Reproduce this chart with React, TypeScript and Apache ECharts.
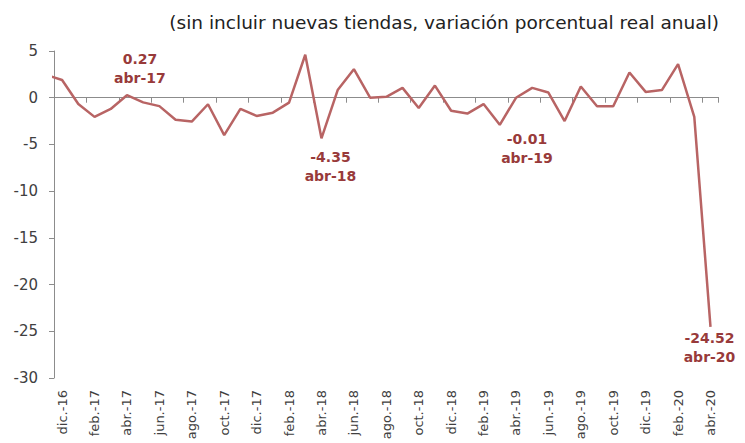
import React, { useEffect, useRef } from "react";
import * as echarts from "echarts";

// Months (first one, nov.-16, lies outside the visible range and is clipped)
const months: string[] = [
  "nov.-16", "dic.-16",
  "ene.-17", "feb.-17", "mar.-17", "abr.-17", "may.-17", "jun.-17", "jul.-17", "ago.-17", "sep.-17", "oct.-17", "nov.-17", "dic.-17",
  "ene.-18", "feb.-18", "mar.-18", "abr.-18", "may.-18", "jun.-18", "jul.-18", "ago.-18", "sep.-18", "oct.-18", "nov.-18", "dic.-18",
  "ene.-19", "feb.-19", "mar.-19", "abr.-19", "may.-19", "jun.-19", "jul.-19", "ago.-19", "sep.-19", "oct.-19", "nov.-19", "dic.-19",
  "ene.-20", "feb.-20", "mar.-20", "abr.-20",
];

const values: number[] = [
  2.45, 1.9,
  -0.68, -2.05, -1.2, 0.27, -0.5, -0.9, -2.35, -2.55, -0.7, -4.0, -1.2, -1.95,
  -1.6, -0.53, 4.6, -4.35, 0.82, 3.05, 0.0, 0.1, 1.05, -1.1, 1.3, -1.4,
  -1.7, -0.68, -2.9, -0.01, 1.05, 0.55, -2.5, 1.2, -0.92, -0.92, 2.7, 0.62,
  0.82, 3.6, -2.05, -24.52,
];

const yTicks = { min: -30, max: 5, interval: 5 };

// Annotated points: month, label text
const annotations: { month: string; tag: string }[] = [
  { month: "abr.-17", tag: "abr-17" },
  { month: "abr.-18", tag: "abr-18" },
  { month: "abr.-19", tag: "abr-19" },
  { month: "abr.-20", tag: "abr-20" },
];

const title = "(sin incluir nuevas tiendas, variación porcentual real anual)";

const FONT = "DejaVu Sans";
const LINE_COLOR = "#B86464";
const LABEL_COLOR = "#983A3A";

const labelPlacement: Record<string, any> = {
  "abr.-17": { position: "top", distance: 8, offset: [13, 0] },
  "abr.-18": { position: "bottom", distance: 9, offset: [9, 0] },
  "abr.-19": { position: "bottom", distance: 32, offset: [11, 0] },
  "abr.-20": { position: "bottom", distance: 2, offset: [-1, 0] },
};

const everyOther = (index: number) => index % 2 === 1;

export default function App() {
  const ref = useRef<HTMLDivElement>(null);

  useEffect(() => {
    if (!ref.current) return;
    const chart = echarts.init(ref.current, undefined, { renderer: "svg" });

    const seriesData = values.map((v, i) => {
      const ann = annotations.find((a) => a.month === months[i]);
      if (!ann) return v;
      const fmt = v.toFixed(2);
      return {
        value: v,
        label: {
          show: true,
          ...labelPlacement[ann.month],
          formatter: `${fmt}\n${ann.tag}`,
          color: LABEL_COLOR,
          fontFamily: FONT,
          fontWeight: "bold",
          fontSize: 14,
          lineHeight: 19,
          align: "center",
        },
      };
    });

    chart.setOption({
      animation: false,
      title: {
        text: title,
        right: 21,
        top: 8,
        textStyle: { fontFamily: FONT, fontSize: 18.5, fontWeight: "normal", color: "#222" },
      },
      grid: { left: 54, right: 26.4, top: 51, bottom: 65, containLabel: false },
      xAxis: [
        {
          type: "category",
          data: months,
          min: 1,
          boundaryGap: true,
          axisLine: { show: true, onZero: true, lineStyle: { color: "#8c8c8c", width: 1 } },
          axisTick: { show: true, interval: everyOther, length: 5, lineStyle: { color: "#8c8c8c" } },
          axisLabel: { show: false },
          splitLine: { show: false },
        },
        {
          type: "category",
          data: months,
          min: 1,
          position: "bottom",
          boundaryGap: true,
          axisLine: { show: false, onZero: false },
          axisTick: { show: false },
          axisLabel: {
            show: true,
            interval: everyOther,
            rotate: 90,
            margin: 12,
            fontFamily: FONT,
            fontSize: 13,
            color: "#404040",
          },
          splitLine: { show: false },
        },
      ],
      yAxis: {
        type: "value",
        min: yTicks.min,
        max: yTicks.max,
        interval: yTicks.interval,
        axisLine: { show: true, lineStyle: { color: "#8c8c8c", width: 1 } },
        axisTick: { show: true, length: 5, lineStyle: { color: "#8c8c8c" } },
        axisLabel: { fontFamily: FONT, fontSize: 15, color: "#404040", margin: 16 },
        splitLine: { show: false },
      },
      series: [
        {
          type: "line",
          xAxisIndex: 0,
          data: seriesData,
          symbol: "circle",
          symbolSize: 0,
          showSymbol: true,
          clip: true,
          lineStyle: { color: LINE_COLOR, width: 2.5 },
          itemStyle: { color: LINE_COLOR },
        },
      ],
    });

    return () => chart.dispose();
  }, []);

  return (
    <div
      ref={ref}
      style={{ position: "fixed", left: 0, top: 0, width: 745, height: 443, background: "#fff" }}
    />
  );
}
